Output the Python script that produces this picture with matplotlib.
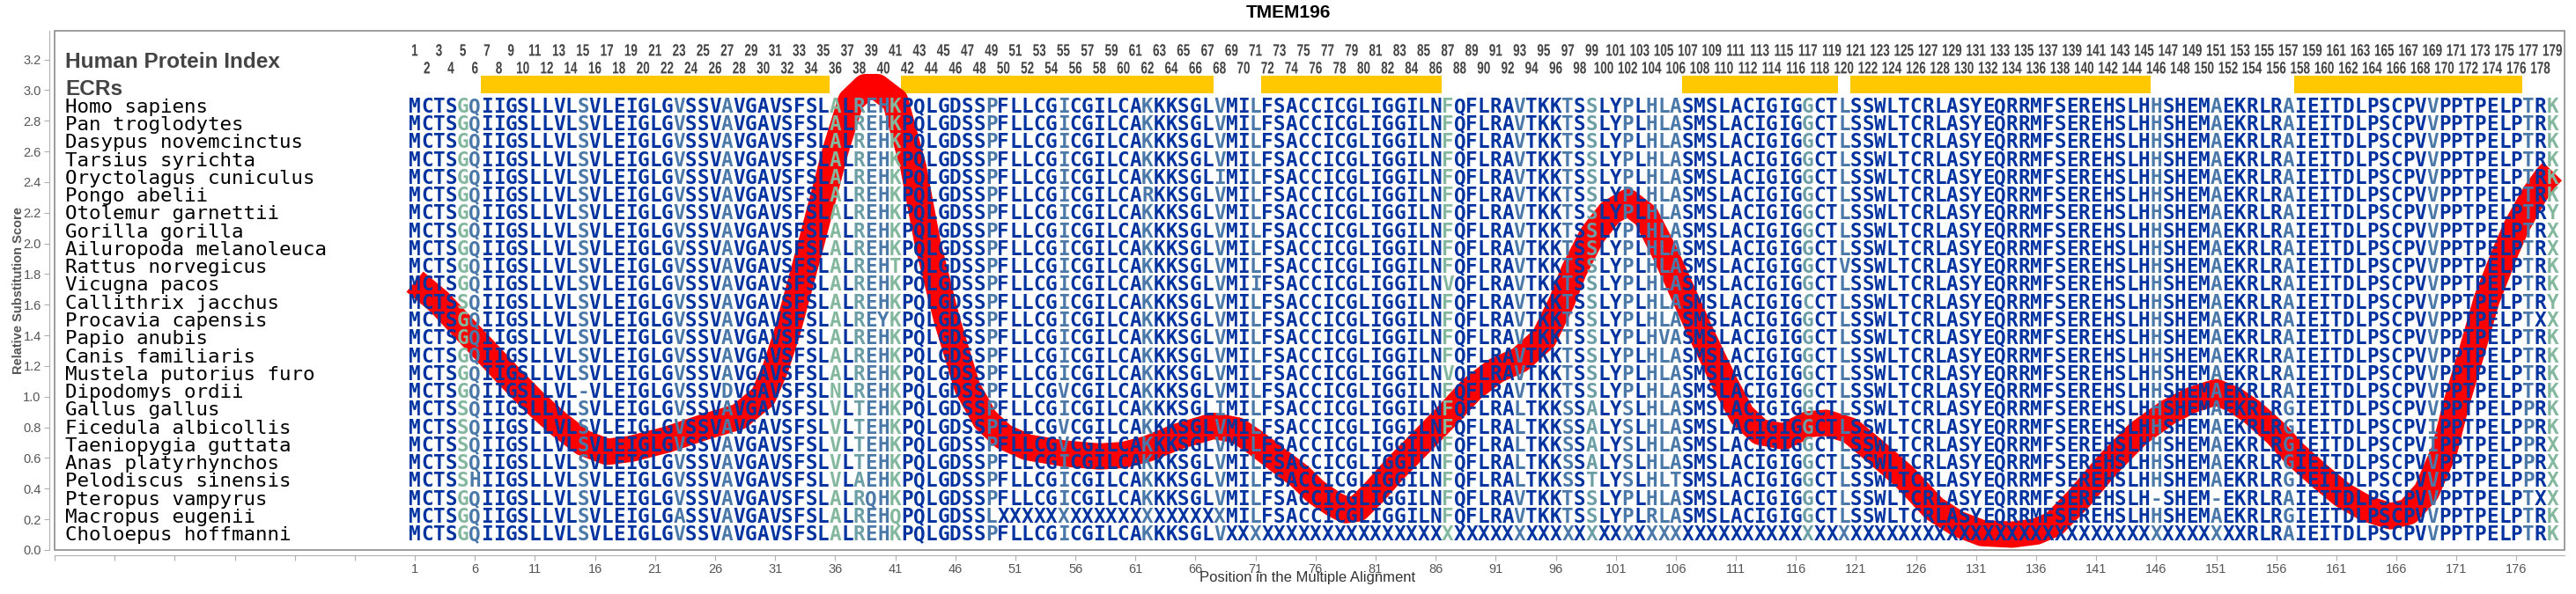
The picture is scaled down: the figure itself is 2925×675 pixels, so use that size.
import numpy as np
import matplotlib.pyplot as plt
import matplotlib.transforms as mtransforms
from matplotlib.patches import Rectangle, PathPatch
from matplotlib.textpath import TextPath
from matplotlib.font_manager import FontProperties

plt.rcParams['font.family'] = ['Liberation Sans', 'DejaVu Sans']

title = "TMEM196"

species = [
    "Homo sapiens", "Pan troglodytes", "Dasypus novemcinctus", "Tarsius syrichta",
    "Oryctolagus cuniculus", "Pongo abelii", "Otolemur garnettii", "Gorilla gorilla",
    "Ailuropoda melanoleuca", "Rattus norvegicus", "Vicugna pacos", "Callithrix jacchus",
    "Procavia capensis", "Papio anubis", "Canis familiaris", "Mustela putorius furo",
    "Dipodomys ordii", "Gallus gallus", "Ficedula albicollis", "Taeniopygia guttata",
    "Anas platyrhynchos", "Pelodiscus sinensis", "Pteropus vampyrus", "Macropus eugenii",
    "Choloepus hoffmanni",
]

sequences = [
    # Homo sapiens
    "MCTSGQIIGSLLVLSVLEIGLGVSSVAVGAVSFSLALREHKPQLGDSSPFLLCGICGILC"
    "AKKKSGLVMILFSACCICGLIGGILNFQFLRAVTKKTSSLYPLHLASMSLACIGIGGCTL"
    "SSWLTCRLASYEQRRMFSEREHSLHHSHEMAEKRLRAIEITDLPSCPVVPPTPELPTRK",
    # Pan troglodytes
    "MCTSGQIIGSLLVLSVLEIGLGVSSVAVGAVSFSLALREHKPQLGDSSPFLLCGICGILC"
    "AKKKSGLVMILFSACCICGLIGGILNFQFLRAVTKKTSSLYPLHLASMSLACIGIGGCTL"
    "SSWLTCRLASYEQRRMFSEREHSLHHSHEMAEKRLRAIEITDLPSCPVVPPTPELPTRK",
    # Dasypus novemcinctus
    "MCTSGQIIGSLLVLSVLEIGLGVSSVAVGAVSFSLALREHKPQLGDSSPFLLCGICGILC"
    "AKKKSGLVMILFSACCICGLIGGILNFQFLRAVTKKTSSLYPLHLASMSLACIGIGGCTL"
    "SSWLTCRLASYEQRRMFSEREHSLHHSHEMAEKRLRAIEITDLPSCPVVPPTPELPTRK",
    # Tarsius syrichta
    "MCTSGQIIGSLLVLSVLEIGLGVSSVAVGAVSFSLALREHKPQLGDSSPFLLCGICGILC"
    "AKKKSGLVMILFSACCICGLIGGILNFQFLRAVTKKTSSLYPLHLASMSLACIGIGGCTL"
    "SSWLTCRLASYEQRRMFSEREHSLHHSHEMAEKRLRAIEITDLPSCPVVPPTPELPTRK",
    # Oryctolagus cuniculus
    "MCTSGQIIGSLLVLSVLEIGLGVSSVAVGAVSFSLALREHKPQLGDSSPFLLCGICGILC"
    "AKKKSGLIMILFSACCICGLIGGILNFQFLRAVTKKTSSLYPLHLASMSLACIGIGGCTL"
    "SSWLTCRLASYEQRRMFSEREHSLHHSHEMAEKRLRAIEITDLPSCPVVPPTPELPTRK",
    # Pongo abelii
    "MCTSGQIIGSLLVLSVLEIGLGVSSVAVGAVSFSLALREHKPQLGDSSPFLLCGICGILC"
    "ARKKSGLVMILFSACCICGLIGGILNFQFLRAVTKKTSSLYPLHLASMSLACIGIGGCTL"
    "SSWLTCRLASYEQRRMFSEREHSLHHSHEMAEKRLRAIEITDLPSCPVVPPTPELPTRK",
    # Otolemur garnettii
    "MCTSGQIIGSLLVLSVLEIGLGVSSVAVGAVSFSLALREHKPQLGDSSPFLLCGICGILC"
    "AKKKSGLVMILFSACCICGLIGGILNFQFLRAVTKKTSSLYPLHLASMSLACIGIGGCTL"
    "SSWLTCRLASYEQRRMFSEREHSLHHSHEMAEKRLRAIEITDLPSCPVVPPTPELPTRY",
    # Gorilla gorilla
    "MCTSGQIIGSLLVLSVLEIGLGVSSVAVGAVSFSLALREHKPQLGDSSPFLLCGICGILC"
    "AKKKSGLVMILFSACCICGLIGGILNFQFLRAVTKKTSSLYPLHLASMSLACIGIGGCTL"
    "SSWLTCRLASYEQRRMFSEREHSLHHSHEMAEKRLRAIEITDLPSCPVVPPTPELPTRX",
    # Ailuropoda melanoleuca
    "MCTSGQIIGSLLVLSVLEIGLGVSSVAVGAVSFSLALREHKPQLGDSSPFLLCGICGILC"
    "AKKKSGLVMILFSACCICGLIGGILNFQFLRAVTKKTSSLYPLHLASMSLACIGIGGCTL"
    "SSWLTCRLASYEQRRMFSEREHSLHHSHEMAEKRLRAIEITDLPSCPVVPPTPELPTRX",
    # Rattus norvegicus
    "MCTSGQIIGSLLVLSVLEIGLGVSSVAVGAVSFSLALREHTPQLGDSSPFLLCGICGILC"
    "AKKKSGLVMILFSACCICGLIGGILNFQFLRAVTKKTSSLYPLHLASMSLACIGIGGCTV"
    "SSWLTCRLASYEQRRMFSEREHSLHHSHEMAEKRLRAIEITDLPSCPVVPPTPELPTRK",
    # Vicugna pacos
    "MCTSGQIIGSLLVLSVLEIGLGVSSVAVGAVSFSLALREHKPQLGDSSPFLLCGICGILC"
    "AKKKSGLVMIIFSACCICGLIGGILNVQFLRAVTKKTSSLYPLHLASMSLACIGIGGCTL"
    "SSWLTCRLASYEQRRMFSEREHSLHHSHEMAEKRLRAIEITDLPSCPVVPPTPELPTRK",
    # Callithrix jacchus
    "MCTSSQIIGSLLVLSVLEIGLGVSSVAVGAVSFSLALREHKPQLGDSSPFLLCGICGILC"
    "AKKKSGLVMILFSACCICGLIGGILNFQFLRAVTKKTSSLYPLHLASMSLACIGIGCCTL"
    "SSWLTCRLASYEQRRMFSEREHSLHHSHEMAEKRLRAIEITDLPSCPVVPPTPELPTRY",
    # Procavia capensis
    "MCTSGQIIGSLLVLSVLEIGLGVSSVAVGAVSFSLALREYKPQLGDSSPFLLCGICGILC"
    "AKKKSGLVMILFSACCICGLIGGILNFQFLRAVTKKTSSLYPLHLASMSLACIGIGGCTL"
    "SSWLTCRLASYEQRRMFSEREHSLHHSHEMAEKRLRAIEITDLPSCPVVPPTPELPTXX",
    # Papio anubis
    "MCTSGQIIGSLLVLSVLEIGLGVSSVAVGAVSFSLALREHKPQLGDSSPFLLCGICGILC"
    "AKKKSGLVMILFSACCICGLIGGILNFQFLRAVTKKTSSLYPLHVASMSLACIGIGGCTL"
    "SSWLTCRLASYEQRRMFSEREHSLHHSHEMAEKRLRAIEITDLPSCPVVPPTPELPTRK",
    # Canis familiaris
    "MCTSGQIIGSLLVLSVLEIGLGVSSVAVGAVSFSLALREHKPQLGDSSPFLLCGICGILC"
    "AKKKSGLVMILFSACCICGLIGGILNFQFLRAVTKKTSSLYPLHLASMSLACIGIGGCTL"
    "SSWLTCRLASYEQRRMFSEREHSLHHSHEMAEKRLRAIEITDLPSCPVVPPTPELPTRK",
    # Mustela putorius furo
    "MCTSGQIIGSLLVLSVLEIGLGVSSVAVGAVSFSLALREHKPQLGDSSPFLLCGICGILC"
    "AKKKSGLVMILFSACCICGLIGGILNVQFLRAVTKKTSSLYPLHLASMSLACIGIGGCTL"
    "SSWLTCRLASYEQRRMFSEREHSLHHSHEMAEKRLRAIEITDLPSCPVVPPTPELPTRK",
    # Dipodomys ordii
    "MCTSGQIIGSLLVL-VLEIGLGVSSVDVGAVSFSLNLREHKPQLGDSSPFLLCGVCGILC"
    "AKKKSGLVMILFSACCICGLIGGILNFQFLRAVTKKTSSLYPLHLASMSLACIGIGGCTL"
    "SSWLTCRLASYEQRRMFSEREHSLHHSHEMAEKRLRAIEITDLPSCPVVPPTPELPTRK",
    # Gallus gallus
    "MCTSSQIIGSLLVLSVLEIGLGVSSVAVGAVSFSLVLTEHKPQLGDSSPFLLCGICGILC"
    "AKKKSGLIMILFSACCICGLIGGILNFQFLRALTKKSSALYSLHLASMSLACIGIGGCTL"
    "SSWLTCRLASYEQRRMFSEREHSLHHSHEMAEKRLRGIEITDLPSCPVVPPTPELPPRK",
    # Ficedula albicollis
    "MCTSSQIIGSLLVLSVLEIGLGVSSVAVGAVSFSLVLTEHKPQLGDSSPFLLCGVCGILC"
    "AKKKSGLVMILFSACCICGLIGGILNFQFLRALTKKSSALYSLHLASMSLACIGIGGCTL"
    "SSWLTCRLASYEQRRMFSEREHSLHHSHEMAEKRLRGIEITDLPSCPVIPPTPELPPRK",
    # Taeniopygia guttata
    "MCTSSQIIGSLLVLSVLEIGLGVSSVAVGAVSFSLVLTEHKPQLGDSSPFLLCGVCGILC"
    "AKKKSGLVMILFSACCICGLIGGILNFQFLRALTKKSSALYSLHLASMSLACIGIGGCTL"
    "SSWLTCRLASYEQRRMFSEREHSLHHSHEMAEKRLRGIEITDLPSCPVIPPTPELPPRX",
    # Anas platyrhynchos
    "MCTSSQIIGSLLVLSVLEIGLGVSSVAVGAVSFSLVLTEHKPQLGDSSPFLLCGICGILC"
    "AKKKSGLVMILFSACCICGLIGGILNFQFLRALTKKSSALYSLHLASMSLACIGIGGCTL"
    "SSWLTCRLASYEQRRMFSEREHSLHHSHEMAEKRLRGIEITDLPSCPVVPPTPELPPRX",
    # Pelodiscus sinensis
    "MCTSSHIIGSLLVLSVLEIGLGVSSVAVGAVSFSLVLAEHKPQLGDSSPFLLCGICGILC"
    "AKKKSGLVMILFSACCICGLIGGILNFQFLRALTKKSSTLYSLHLTSMSLACIGIGGCTL"
    "SSWLTCRLASYEQRRMFSEREHSLHHSHEMAEKRLRGIEITDLPSCPVVPPTPELPPRX",
    # Pteropus vampyrus
    "MCTSGQIIGSLLVLSVLEIGLGVSSVAVGAVSFSLALRQHKPQLGDSSPFLLCGICGILC"
    "AKKKSGLVMILFSACCICGLIGGILNFQFLRAVTKKTSSLYPLHLASMSLACIGIGGCTL"
    "SSWLTCRLASYEQRRMFSEREHSLH-SHEM-EKRLRAIEITDLPSCPVVPPTPELPTXX",
    # Macropus eugenii
    "MCTSGQIIGSLLVLSVLEIGLGASSVAVGAVSFSLALREHQPQLGDSSLXXXXXXXXXXX"
    "XXXXXXXXMILFSACCICGLIGGILNFQFLRAVTKKTSSLYPLRLASMSLACIGIGGCTL"
    "SSWLTCRLASYEQRRMFSEREHSLHHSHEMAEKRLRGIEITDLPSCPVVPPTPELPTRK",
    # Choloepus hoffmanni
    "MCTSGQIIGSLLVLSVLEIGLGVSSVAVGAVSFSLALREHKPQLGDSSPFLLCGICGILC"
    "AKKKSGLVXXXXXXXXXXXXXXXXXXXXXXXXXXXXXXXXXXXXXXXXXXXXXXXXXXXX"
    "XXXXXXXXXXXXXXXXXXXXXXXXXXXXXXXXXRLRAIEITDLPSCPVVPPTPELPTRK",
]

# conservation class of each alignment column (d dark, s steel, t teal, g green)
column_class = ("ddddgsdddd" "ddddsddddd" "ddsdddsddd" "dddddgdtss" "gdddddddsd"
                "ddddsddddd" "dsdddddsdd" "sddddddddd" "ddddddgddd" "ddsdddsdtd"
                "dsdsssdddd" "ddddddtdds" "dddddddddd" "dddddddddd" "dddddsdddd"
                "sdddddsddd" "ddddddddsd" "ddddddsdg")

ecr_start = [7, 42, 72, 107, 121, 158]
ecr_end = [35, 67, 86, 119, 145, 176]

curve_pos = [1, 3, 6, 9, 11, 13, 15, 17, 19, 22, 25, 28, 30, 31, 32, 34, 36, 37.3, 38.5, 39.5,
             41, 42.5, 43.7, 45.3, 47, 48.5, 50, 52, 55, 58, 60, 62, 64.5, 67.5, 69.5, 71, 73,
             74.7, 76, 77.5, 78.5, 79.5, 80.8, 82.5, 84.5, 87, 89, 91, 93, 95, 96.5, 97.5, 99,
             100.5, 102, 103.5, 105, 106, 108, 110, 111.5, 113, 115, 117, 118.5, 120.5, 122.5,
             125, 127.5, 129.5, 131.5, 134, 136, 137.5, 139.5, 142, 144.5, 147, 149, 151, 152.5,
             154, 156, 157.5, 159.5, 161.5, 163.5, 165.5, 167, 168.5, 170, 171, 172.3, 173.5,
             175, 176, 177.5, 178.5, 179]
curve_score = [1.75, 1.62, 1.37, 1.12, 0.96, 0.82, 0.70, 0.64, 0.66, 0.72, 0.80, 0.87, 1.0, 1.18,
               1.42, 2.0, 2.6, 2.93, 3.02, 3.02, 2.93, 2.5, 2.0, 1.5, 1.06, 0.85, 0.74, 0.67, 0.63,
               0.61, 0.62, 0.66, 0.74, 0.81, 0.78, 0.70, 0.58, 0.48, 0.38, 0.30, 0.26, 0.27, 0.37,
               0.52, 0.68, 0.88, 1.05, 1.17, 1.24, 1.38, 1.62, 1.82, 2.05, 2.2, 2.27, 2.18, 1.95,
               1.78, 1.43, 1.1, 0.88, 0.77, 0.74, 0.82, 0.83, 0.78, 0.65, 0.48, 0.27, 0.17, 0.11,
               0.10, 0.12, 0.17, 0.33, 0.56, 0.76, 0.90, 0.98, 1.03, 0.98, 0.90, 0.76, 0.63, 0.49,
               0.36, 0.27, 0.22, 0.25, 0.38, 0.65, 0.96, 1.3, 1.63, 1.93, 2.11, 2.32, 2.43, 2.47]

class_colors = {'d': '#0033a0', 's': '#4a78a8', 't': '#6c9ea6', 'g': '#84b89e'}
n_cols = len(sequences[0])
for s in sequences:
    assert len(s) == n_cols, len(s)

fig = plt.figure(figsize=(29.25, 6.75), dpi=100)
ax = fig.add_axes([62 / 2925, 50 / 675, 2850 / 2925, 590 / 675])
ax.set_xlim(-29, 180)
ax.set_ylim(0, 3.387)

# ECR blocks
widths = [e - s + 1 for s, e in zip(ecr_start, ecr_end)]
lefts = [s - 0.5 for s in ecr_start]
ax.barh(3.036, widths, left=lefts, height=0.115, color='#ffc800', zorder=1)

# substitution score curve (under the letters)
ax.plot(curve_pos, curve_score, color='#ff0000', lw=21.5, solid_capstyle='butt',
        solid_joinstyle='round', zorder=2)

# column numbers, drawn as condensed glyph outlines so three digits fit in two columns
num_prop = FontProperties(family='Liberation Sans', weight='bold')
sx, sy = 13.5, 19.0   # pixels per font unit (horizontal squeeze)
for c in range(1, n_cols + 1):
    y = 3.224 if c % 2 else 3.109
    tp = TextPath((0, 0), str(c), size=1, prop=num_prop)
    ext = tp.get_extents()
    tr = (mtransforms.Affine2D().translate(-(ext.x0 + ext.x1) / 2, 0).scale(sx, sy)
          + mtransforms.ScaledTranslation(c, y, ax.transData))
    ax.add_patch(PathPatch(tp, transform=tr, facecolor='#444444', edgecolor='none',
                           zorder=4, clip_on=False))

ax.text(-28.1, 3.146, 'Human Protein Index', fontsize=17.6, fontweight='bold', color='#444444')
ax.text(-28.1, 2.968, 'ECRs', fontsize=17.6, fontweight='bold', color='#444444')

# species names and aligned residues
for i, (name, seq) in enumerate(zip(species, sequences)):
    y = 2.855 - i * 0.1164
    ax.text(-28.1, y, name, ha='left', va='baseline', fontsize=16.2,
            family='DejaVu Sans Mono', color='black')
    for j, ch in enumerate(seq):
        ax.text(j + 1, y, ch, ha='center', va='baseline', fontsize=16.3, fontweight='bold',
                family='DejaVu Sans Mono', color=class_colors[column_class[j]], zorder=3)

# frame and axes
ax.add_patch(Rectangle((0, 0), 1, 1, transform=ax.transAxes, fill=False,
                       edgecolor='#8c8c8c', lw=1.2, zorder=5, clip_on=False))
ax.spines['top'].set_visible(False)
ax.spines['right'].set_visible(False)
for side in ['left', 'bottom']:
    ax.spines[side].set_position(('outward', 4))
    ax.spines[side].set_color('#b0b0b0')

yt = np.arange(0, 3.21, 0.2)
ax.set_yticks(yt)
ax.set_yticklabels(['%.1f' % v for v in yt])
xt = np.arange(-29, 180, 5)
ax.set_xticks(xt)
ax.set_xticklabels([str(v) if v > 0 else '' for v in xt])
ax.tick_params(direction='out', length=4, color='#b0b0b0', labelcolor='#555555',
               labelsize=10.5, pad=3)

fig.text(21 / 2925, 1 - 330 / 675, 'Relative Substitution Score', rotation=90, ha='center',
         va='center', fontsize=10.5, fontweight='bold', color='#555555')
fig.text(1485 / 2925, 1 - 657 / 675, 'Position in the Multiple Alignment', ha='center',
         va='center', fontsize=12, color='#333333')
fig.text(0.5, 1 - 15 / 675, title, ha='center', va='center', fontsize=15, fontweight='bold',
         color='black')

fig.savefig('out.png', dpi=100)
